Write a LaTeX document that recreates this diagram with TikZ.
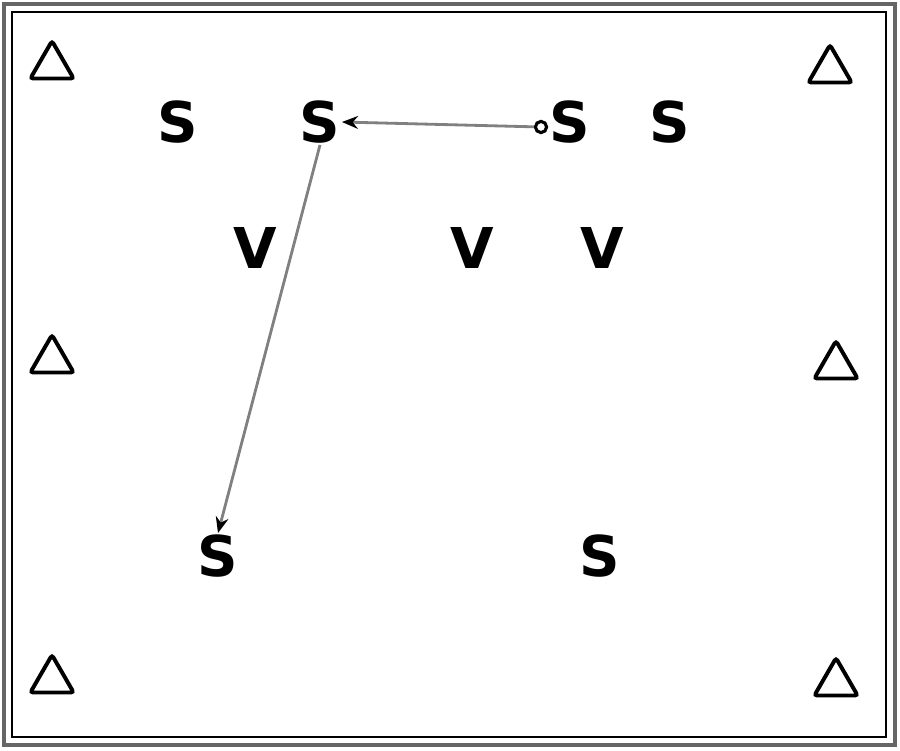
\documentclass[tikz,border=0pt]{standalone}
\usepackage{fontspec}
\setmainfont{DejaVu Sans}
\usetikzlibrary{shapes.geometric,arrows.meta}

\begin{document}
\begin{tikzpicture}[x=0.025cm,y=-0.025cm,
    letter/.style={font=\fontsize{40}{40}\selectfont\bfseries, inner sep=1pt},
    cone/.style={draw, regular polygon, regular polygon sides=3, minimum size=12.5mm, inner sep=0pt, line width=2.8pt, rounded corners=2pt},
    move/.style={draw=black!50, line width=2pt, -{Stealth[length=4mm,width=3.2mm,color=black]}}]
  \useasboundingbox (0,0) rectangle (900,750);
  % frame
  \draw[line width=2.5pt, draw=black!60] (4,4) rectangle (895,745);
  \draw[line width=0.8pt] (12,12) rectangle (886,737);
  % cones
  \node[cone] (c1) at (52,66) {};
  \node[cone] (c2) at (830,70) {};
  \node[cone] (c3) at (52,360) {};
  \node[cone] (c4) at (836,366) {};
  \node[cone] (c5) at (52,680) {};
  \node[cone] (c6) at (836,683) {};
  % players
  \node[letter] (s1) at (178,122) {S};
  \node[letter] (s2) at (320,122) {S};
  \node[letter] (s3) at (570,122) {S};
  \node[letter] (s4) at (670,122) {S};
  \node[letter] (s5) at (218,556) {S};
  \node[letter] (s6) at (600,556) {S};
  \node[letter] (v1) at (255,248) {V};
  \node[letter] (v2) at (472,248) {V};
  \node[letter] (v3) at (602,248) {V};
  % ball
  \node[draw, circle, line width=2.2pt, minimum size=2.8mm, inner sep=0pt] (ball) at (541,127) {};
  \draw[move] (ball) -- (s2.east);
  \draw[move] (s2.south) -- (s5.north);
\end{tikzpicture}
\end{document}
